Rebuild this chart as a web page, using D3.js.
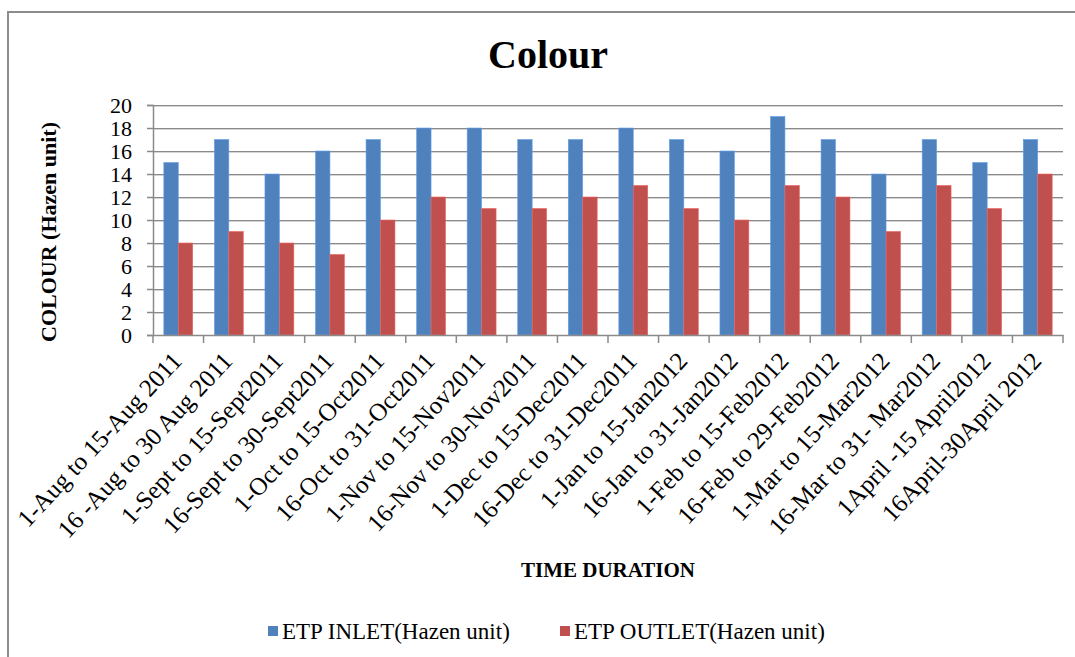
<!DOCTYPE html>
<html>
<head>
<meta charset="utf-8">
<script src="https://cdn.jsdelivr.net/npm/d3@7"></script>
<style>
  body { margin: 0; background: #fff; }
  svg { display: block; }
</style>
</head>
<body>
<div id="container"></div>
<script>
/* DATA */
const periods = [
  "1-Aug to 15-Aug 2011", "16 -Aug to 30 Aug 2011", "1-Sept to 15-Sept2011",
  "16-Sept to 30-Sept2011", "1-Oct to 15-Oct2011", "16-Oct to 31-Oct2011",
  "1-Nov to 15-Nov2011", "16-Nov to 30-Nov2011", "1-Dec to 15-Dec2011",
  "16-Dec to 31-Dec2011", "1-Jan to 15-Jan2012", "16-Jan to 31-Jan2012",
  "1-Feb to 15-Feb2012", "16-Feb to 29-Feb2012", "1-Mar to 15-Mar2012",
  "16-Mar to 31- Mar2012", "1April -15 April2012", "16April-30April 2012"
]
const inlet  = [15, 17, 14, 16, 17, 18, 18, 17, 17, 18, 17, 16, 19, 17, 14, 17, 15, 17]
const outlet = [8, 9, 8, 7, 10, 12, 11, 11, 12, 13, 11, 10, 13, 12, 9, 13, 11, 14]
const seriesNames = ["ETP INLET(Hazen unit)", "ETP OUTLET(Hazen unit)"]
const yTicks = [0, 2, 4, 6, 8, 10, 12, 14, 16, 18, 20]

/* CONSTANTS */
const W = 1075, H = 657
const plot = {left: 153, right: 1063, top: 105, bottom: 335}
const colors = ["#4f81bd", "#c0504d"]
const serif = "'Liberation Serif', 'Times New Roman', Times, serif"

const rows = periods.map((p, i) => ({period: p, values: [inlet[i], outlet[i]]}))

const svg = d3.select("#container")
  .append("svg")
    .attr("width", W)
    .attr("height", H)
    .attr("font-family", serif)

// outer frame (only top and left edges visible)
svg.append("path")
  .attr("d", `M8,${H} V12 H${W}`)
  .attr("fill", "none")
  .attr("stroke", "#8c8c8c")
  .attr("stroke-width", 2)

// SCALES
const x0 = d3.scaleBand()
  .domain(periods)
  .range([plot.left, plot.right])

const bw = x0.bandwidth()
const barW = bw / 3.5
const x1 = d3.scaleBand()
  .domain([0, 1])
  .range([barW * 0.75, barW * 2.75])

const y = d3.scaleLinear()
  .domain([0, 20])
  .range([plot.bottom, plot.top])

// GRIDLINES
const grid = svg.append("g")
grid.selectAll(".shade")
  .data(yTicks.filter(d => d > 0))
  .join("line")
    .attr("x1", plot.left).attr("x2", plot.right)
    .attr("y1", d => y(d) + 1.5).attr("y2", d => y(d) + 1.5)
    .attr("stroke", "#d4d4d4")
grid.selectAll(".gl")
  .data(yTicks.filter(d => d > 0))
  .join("line")
    .attr("x1", plot.left).attr("x2", plot.right)
    .attr("y1", d => y(d) + 0.5).attr("y2", d => y(d) + 0.5)
    .attr("stroke", "#8a8a8a")

// BARS
svg.append("g")
  .selectAll("g")
  .data(rows)
  .join("g")
    .attr("transform", d => `translate(${x0(d.period)},0)`)
  .selectAll("rect")
  .data(d => d.values.map((v, k) => ({k, v})))
  .join("rect")
    .attr("x", d => x1(d.k))
    .attr("y", d => y(d.v))
    .attr("width", x1.bandwidth())
    .attr("height", d => y(0) - y(d.v))
    .attr("fill", d => colors[d.k])
    .attr("stroke", d => d3.color(colors[d.k]).brighter(0.6))
    .attr("stroke-width", 0.6)

// Y AXIS
const yAxis = svg.append("g")
  .attr("transform", `translate(${plot.left},0)`)
  .call(d3.axisLeft(y).tickValues(yTicks).tickSize(6).tickPadding(15))
yAxis.select(".domain").attr("stroke", "#8a8a8a").attr("stroke-width", 1.5)
yAxis.selectAll(".tick line").attr("stroke", "#8a8a8a").attr("stroke-width", 1.5)
yAxis.selectAll("text")
  .attr("font-family", serif)
  .attr("font-size", 22)
  .attr("fill", "#000")

// X AXIS
const xAxis = svg.append("g")
  .attr("transform", `translate(0,${plot.bottom})`)
  .call(d3.axisBottom(x0).tickSize(0).tickSizeOuter(0).tickPadding(0))
xAxis.select(".domain").attr("stroke", "#8a8a8a").attr("stroke-width", 1.5)
xAxis.selectAll("text")
  .attr("font-family", serif)
  .attr("font-size", 25)
  .attr("fill", "#000")
  .attr("text-anchor", "end")
  .attr("dy", 0)
  .attr("transform", "translate(5,27) rotate(-47)")

// category boundary ticks
xAxis.selectAll(".bound")
  .data(periods.map(p => x0(p)).concat([plot.right]))
  .join("line")
    .attr("x1", d => d).attr("x2", d => d)
    .attr("y1", 0).attr("y2", 8)
    .attr("stroke", "#8a8a8a")
    .attr("stroke-width", 1.5)

// TITLES
svg.append("text")
  .attr("x", 548).attr("y", 68)
  .attr("text-anchor", "middle")
  .attr("font-size", 40)
  .attr("font-weight", "bold")
  .text("Colour")

svg.append("text")
  .attr("transform", `translate(56,232) rotate(-90)`)
  .attr("text-anchor", "middle")
  .attr("font-size", 22)
  .attr("font-weight", "bold")
  .text("COLOUR (Hazen unit)")

svg.append("text")
  .attr("x", 608).attr("y", 577)
  .attr("text-anchor", "middle")
  .attr("font-size", 21)
  .attr("font-weight", "bold")
  .text("TIME DURATION")

// LEGEND
const legendX = [268, 560]
const legend = svg.append("g")
  .selectAll("g")
  .data(seriesNames)
  .join("g")
    .attr("transform", (d, i) => `translate(${legendX[i]},631)`)
legend.append("rect")
  .attr("x", 0).attr("y", -5)
  .attr("width", 10).attr("height", 10)
  .attr("fill", (d, i) => colors[i])
legend.append("text")
  .attr("x", 14).attr("y", 8)
  .attr("font-family", serif)
  .attr("font-size", 23)
  .text(d => d)
</script>
</body>
</html>
